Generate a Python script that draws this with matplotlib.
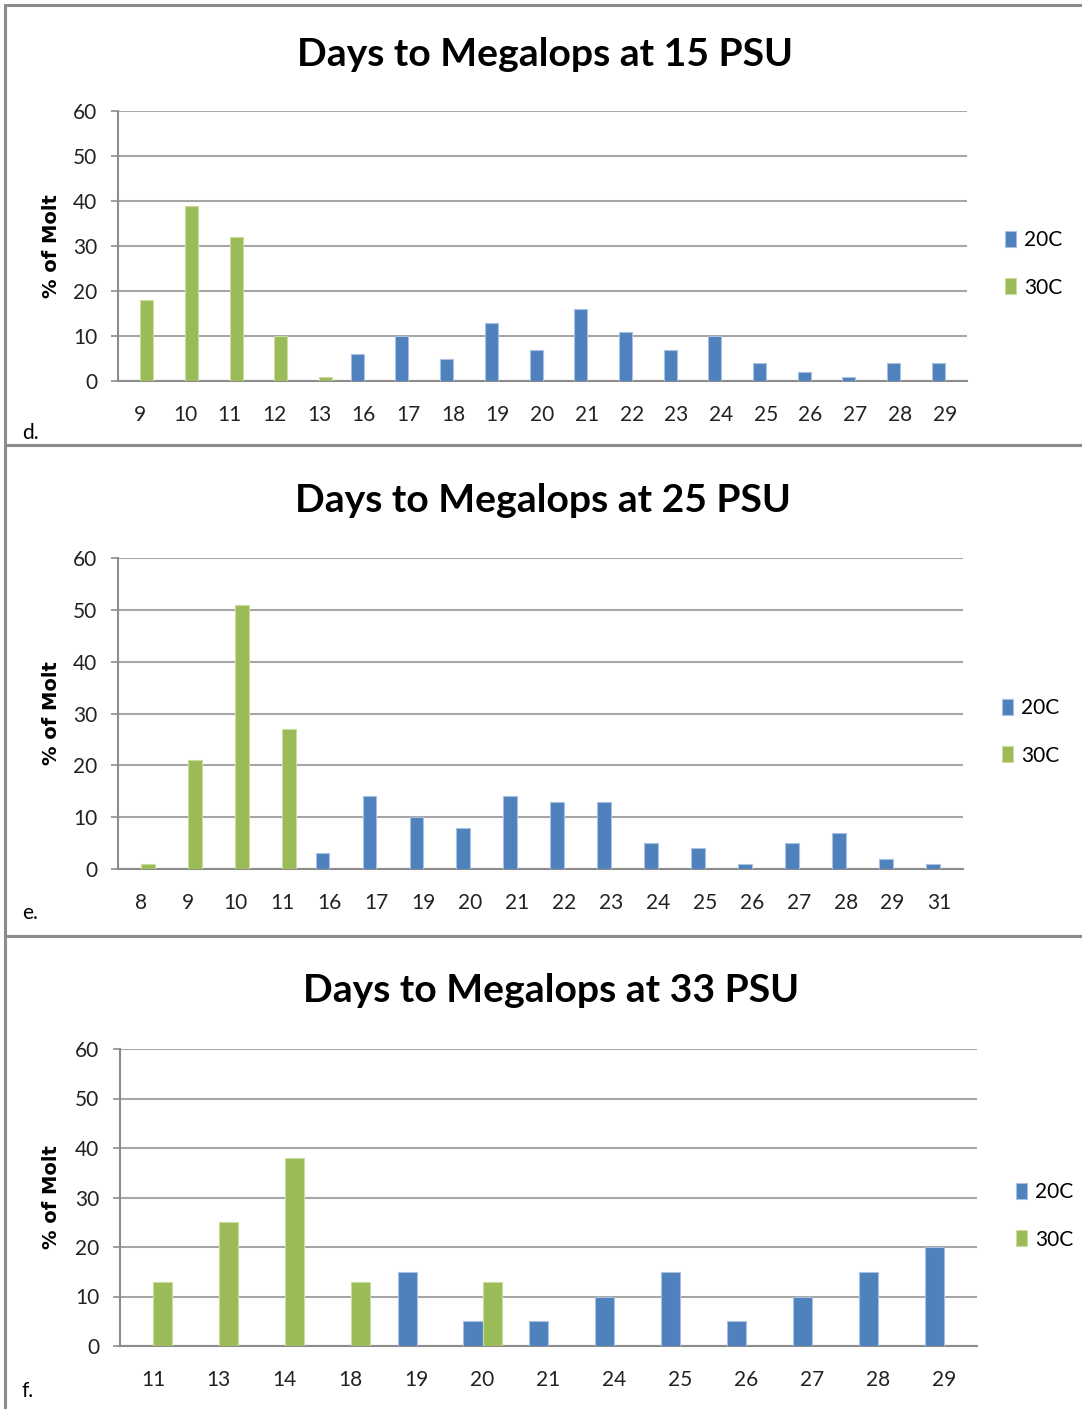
import numpy as np
import matplotlib
matplotlib.use("Agg")
import matplotlib.pyplot as plt
from matplotlib.patches import Rectangle

# ---------------- data ----------------
titles = ["Days to Megalops at 15 PSU", "Days to Megalops at 25 PSU", "Days to Megalops at 33 PSU"]
panel_labels = ["d.", "e.", "f."]
series_names = ["20C", "30C"]

days_15 = ["9", "10", "11", "12", "13", "16", "17", "18", "19", "20", "21", "22", "23", "24", "25", "26", "27", "28", "29"]
c20_15 = [0, 0, 0, 0, 0, 6, 10, 5, 13, 7, 16, 11, 7, 10, 4, 2, 1, 4, 4]
c30_15 = [18, 39, 32, 10, 1, 0, 0, 0, 0, 0, 0, 0, 0, 0, 0, 0, 0, 0, 0]

days_25 = ["8", "9", "10", "11", "16", "17", "19", "20", "21", "22", "23", "24", "25", "26", "27", "28", "29", "31"]
c20_25 = [0, 0, 0, 0, 3, 14, 10, 8, 14, 13, 13, 5, 4, 1, 5, 7, 2, 1]
c30_25 = [1, 21, 51, 27, 0, 0, 0, 0, 0, 0, 0, 0, 0, 0, 0, 0, 0, 0]

days_33 = ["11", "13", "14", "18", "19", "20", "21", "24", "25", "26", "27", "28", "29"]
c20_33 = [0, 0, 0, 0, 15, 5, 5, 10, 15, 5, 10, 15, 20]
c30_33 = [13, 25, 38, 13, 0, 13, 0, 0, 0, 0, 0, 0, 0]

yticks = [0, 10, 20, 30, 40, 50, 60]

# ---------------- style ----------------
W, H = 1082, 1409
BLUE, GREEN = "#4F81BD", "#9BBB59"
BLUE_E, GREEN_E = "#a9c0e0", "#cadd9f"
GRID = "#a6a6a6"
FONT = ["Lato", "DejaVu Sans"]

fig = plt.figure(figsize=(W / 100, H / 100), dpi=100)

def fx(x): return x / W
def fy(y): return 1 - y / H

# panel borders (pixel coords: x0, y0, x1, y1)
borders = [(5, 5, 1090, 445), (5, 445, 1090, 936), (5, 936, 1090, 1420)]
for (x0, y0, x1, y1) in borders:
    fig.patches.append(Rectangle((fx(x0), fy(y1)), fx(x1 - x0), (y1 - y0) / H,
                                 transform=fig.transFigure, fill=False,
                                 edgecolor="#8c8c8c", linewidth=2.2, zorder=0))

# axes geometry in pixels: left, top, right, bottom
geoms = [(118, 111, 967, 381), (118, 558, 963, 869), (120, 1049, 977, 1346)]
title_pos = [(545, 55), (543, 500), (551, 991)]
label_pos = [(22, 433), (22, 913), (22, 1391)]
legend_pos = [(1005, 264), (1002, 732), (1016, 1216)]

data = [(days_15, c20_15, c30_15), (days_25, c20_25, c30_25), (days_33, c20_33, c30_33)]

bw = 0.29
for k in range(3):
    l, t, r, b = geoms[k]
    ax = fig.add_axes([fx(l), fy(b), (r - l) / W, (b - t) / H])
    days, s20, s30 = data[k]
    idx = np.arange(len(days))
    s20 = np.array(s20, dtype=float)
    s30 = np.array(s30, dtype=float)
    m20 = s20 > 0
    m30 = s30 > 0
    ax.bar(idx[m20] - bw / 2, s20[m20], width=bw, color=BLUE, edgecolor=BLUE_E,
           linewidth=0.8, zorder=3, label=series_names[0])
    ax.bar(idx[m30] + bw / 2, s30[m30], width=bw, color=GREEN, edgecolor=GREEN_E,
           linewidth=0.8, zorder=3, label=series_names[1])
    ax.set_xlim(-0.5, len(days) - 0.5)
    ax.set_ylim(0, 60)
    ax.set_yticks(yticks)
    ax.set_xticks(idx)
    ax.set_xticklabels(days)
    for sp in ["top", "right"]:
        ax.spines[sp].set_visible(False)
    for sp in ["left", "bottom"]:
        ax.spines[sp].set_color("#8c8c8c")
        ax.spines[sp].set_linewidth(1.5)
    ax.yaxis.grid(True, color=GRID, linewidth=1.5, zorder=0)
    ax.set_axisbelow(True)
    ax.tick_params(axis="y", length=5, width=1.2, color="#8c8c8c", pad=10,
                   labelsize=15, labelcolor="#222222")
    ax.tick_params(axis="x", length=0, pad=17, labelsize=15, labelcolor="#222222")
    for lab in ax.get_xticklabels() + ax.get_yticklabels():
        lab.set_family(FONT)
    ax.set_ylabel("% of Molt", fontsize=14, fontweight="bold", family="DejaVu Sans")
    ax.yaxis.set_label_coords((61 - l) / (r - l), 0.5)

    tx, ty = title_pos[k]
    fig.text(fx(tx), fy(ty), titles[k], ha="center", va="center", fontsize=28.2,
             fontweight="bold", family=FONT)
    px, py = label_pos[k]
    fig.text(fx(px), fy(py), panel_labels[k], ha="left", va="center", fontsize=15,
             family=FONT)
    lx, ly = legend_pos[k]
    ax.legend(loc="center left", bbox_to_anchor=(fx(lx), fy(ly)),
              bbox_transform=fig.transFigure, frameon=False,
              borderpad=0, borderaxespad=0,
              handlelength=0.55, handleheight=0.8, handletextpad=0.35,
              labelspacing=1.3, prop={"family": FONT, "size": 15})

fig.savefig("out.png", dpi=100, facecolor="white")
